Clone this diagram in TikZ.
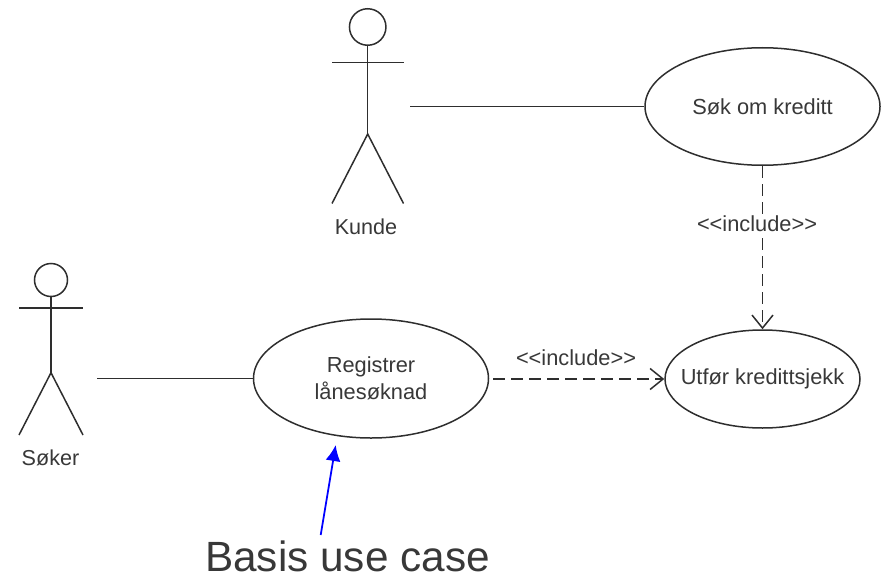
\documentclass[tikz,border=0pt]{standalone}
\usepackage{fontspec}
\setmainfont{Liberation Sans}
\usepackage{tikz}
\usetikzlibrary{positioning,arrows.meta,shapes.geometric}
\definecolor{inkline}{HTML}{2E2E2E}
\definecolor{inktext}{HTML}{383838}

\begin{document}
\begin{tikzpicture}[x=1pt,y=-1pt,
        usecase/.style={draw=inkline, ellipse, line width=1.5pt, inner sep=-25pt, text=inktext, font=\fontsize{21.8}{26.5}\selectfont, align=center},
        head/.style={draw=inkline, circle, line width=1.5pt, inner sep=0pt},
        actorlabel/.style={text=inktext, font=\fontsize{21.6}{26}\selectfont},
        limb/.style={draw=inkline, line width=1.5pt},
        incl/.style={draw=inkline, line width=1.5pt, dash pattern=on 12pt off 6pt, -{Straight Barb[length=13pt,width=21pt]}},
        stereo/.style={text=inktext, font=\fontsize{21.8}{26}\selectfont}
    ]
    \useasboundingbox (0,0) rectangle (885,575);

    % actors
    \node (kundeHead) [head, minimum size=36.5pt] at (367.7,27) {};
    \coordinate (kundeHip) at (367.7,134);
    \coordinate (kundeArmL) at (332,62.5);
    \coordinate (kundeArmR) at (403.5,62.5);
    \coordinate (kundeFootL) at (332,203.5);
    \coordinate (kundeFootR) at (403.5,203.5);
    \draw[limb] (kundeHead.south) -- (kundeHip);
    \draw[limb] (kundeArmL) -- (kundeArmR);
    \draw[limb] (kundeFootL) -- (kundeHip) -- (kundeFootR);
    \node (kunde) [actorlabel] at (366,227) {Kunde};

    \node (sokerHead) [head, minimum size=33pt] at (51,280) {};
    \coordinate (sokerHip) at (51,372.7);
    \coordinate (sokerArmL) at (19,308);
    \coordinate (sokerArmR) at (83,308);
    \coordinate (sokerFootL) at (19,435);
    \coordinate (sokerFootR) at (83,435);
    \draw[limb] (sokerHead.south) -- (sokerHip);
    \draw[limb] (sokerArmL) -- (sokerArmR);
    \draw[limb] (sokerFootL) -- (sokerHip) -- (sokerFootR);
    \node (soker) [actorlabel] at (50.5,458) {Søker};

    % use cases
    \node (sok) [usecase, minimum width=235pt, minimum height=117.5pt] at (762.5,106.5) {Søk om kreditt};
    \node (reg) [usecase, minimum width=235pt, minimum height=119pt] at (371,378.5) {Registrer\\lånesøknad};
    \node (utfor) [usecase, minimum width=195pt, minimum height=98pt] at (762.5,379) {Utfør kredittsjekk};

    % connectors
    \coordinate (kundeEnd) at (410,106.5);
    \coordinate (sokerEnd) at (97,378.5);
    \coordinate (regOut) at (493,379);
    \draw[limb] (kundeEnd) -- (sok);
    \draw[limb] (sokerEnd) -- (reg);
    \draw[incl] (sok) -- (utfor);
    \draw[incl] (regOut) -- (utfor);
    \node (inclA) [stereo, fill=white, inner xsep=1pt, inner ysep=0pt] at (757,224) {<{}<include>{}>};
    \node (inclB) [stereo] at (576,358) {<{}<include>{}>};

    % annotation
    \node (basis) [text=inktext, inner sep=0pt, anchor=base, font=\fontsize{42.3}{46}\selectfont] at (347.5,571.5) {Basis use case};
    \coordinate (basisStart) at (320.7,535);
    \coordinate (basisTip) at (335.7,445);
    \draw[blue, line width=1.8pt, -{Latex[length=16pt,width=15pt]}] (basisStart) -- (basisTip);
\end{tikzpicture}
\end{document}
